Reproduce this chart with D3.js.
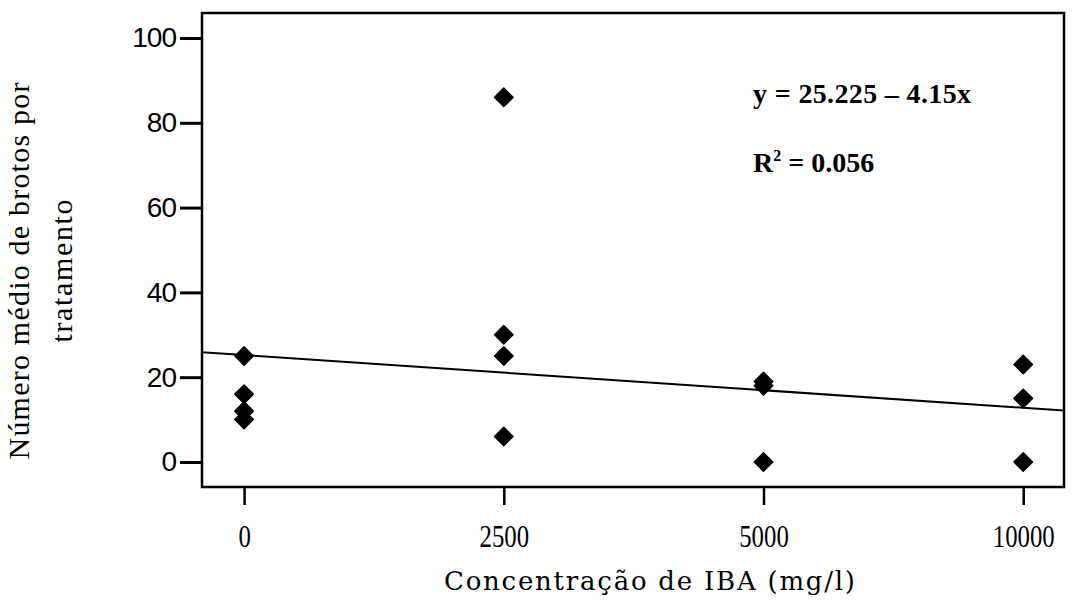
<!DOCTYPE html>
<html>
<head>
<meta charset="utf-8">
<script src="https://cdn.jsdelivr.net/npm/d3@7"></script>
<style>
  body { margin: 0; background: #fff; }
  svg { display: block; }
</style>
</head>
<body>
<svg id="chart" width="1075" height="607"></svg>
<script>
// data
const categories = ["0", "2500", "5000", "10000"];
const values0 = [25, 16, 12, 10];
const values2500 = [86, 30, 25, 6];
const values5000 = [19, 18, 0];
const values10000 = [23, 15, 0];
const yTicks = [0, 20, 40, 60, 80, 100];
const intercept = 25.225;
const slope = -4.15;

const groups = [values0, values2500, values5000, values10000];
const points = [];
groups.forEach((vals, i) => vals.forEach(v => points.push({ i: i, v: v })));

const svg = d3.select("#chart");
const box = { left: 202, right: 1064, top: 13, bottom: 487 };

// categories sit on an evenly spaced index scale
const x = d3.scaleLinear().domain([-0.162, 3.157]).range([box.left, box.right]);
const y = d3.scaleLinear().domain([-5.9, 105.9]).range([box.bottom, box.top]);

// y axis
const yAxis = svg.append("g")
  .attr("transform", `translate(${box.left},0)`)
  .call(d3.axisLeft(y).tickValues(yTicks).tickSize(22).tickPadding(4));
yAxis.select(".domain").remove();
yAxis.selectAll(".tick line").attr("stroke", "#000").attr("stroke-width", 3);
yAxis.selectAll(".tick text")
  .attr("font-family", "Liberation Sans, Arial, sans-serif")
  .attr("font-size", 28)
  .attr("letter-spacing", -1)
  .attr("fill", "#000");

// x axis
const xAxis = svg.append("g")
  .attr("transform", `translate(0,${box.bottom})`)
  .call(d3.axisBottom(x).tickValues([0, 1, 2, 3]).tickFormat(i => categories[i]).tickSize(18).tickPadding(20));
xAxis.select(".domain").remove();
xAxis.selectAll(".tick line").attr("stroke", "#000").attr("stroke-width", 2.5);
xAxis.selectAll(".tick text")
  .attr("font-family", "Liberation Serif, Times New Roman, serif")
  .attr("font-size", 31)
  .attr("transform", "scale(0.8,1)")
  .attr("fill", "#000");

// frame
svg.append("rect")
  .attr("x", box.left).attr("y", box.top)
  .attr("width", box.right - box.left).attr("height", box.bottom - box.top)
  .attr("fill", "none").attr("stroke", "#000").attr("stroke-width", 2.5);

// regression line
const lineX = x.domain();
svg.append("line")
  .attr("x1", x(lineX[0])).attr("y1", y(intercept + slope * lineX[0]))
  .attr("x2", x(lineX[1])).attr("y2", y(intercept + slope * lineX[1]))
  .attr("stroke", "#000").attr("stroke-width", 2);

// diamonds
svg.selectAll(".pt")
  .data(points)
  .enter()
  .append("path")
  .attr("class", "pt")
  .attr("d", d3.symbol().type(d3.symbolSquare).size(170))
  .attr("transform", d => `translate(${x(d.i)},${y(d.v)}) rotate(45)`)
  .attr("fill", "#000")
  .attr("stroke", "#000")
  .attr("stroke-width", 1.5)
  .attr("stroke-linejoin", "round");

// equation
svg.append("text")
  .attr("x", 753).attr("y", 103)
  .attr("font-family", "Liberation Serif, Times New Roman, serif")
  .attr("font-weight", "bold")
  .attr("font-size", 28)
  .attr("textLength", 218)
  .text("y = 25.225 \u2013 4.15x");

const r2 = svg.append("text")
  .attr("x", 753).attr("y", 172)
  .attr("font-family", "Liberation Serif, Times New Roman, serif")
  .attr("font-weight", "bold")
  .attr("font-size", 28);
r2.append("tspan").text("R");
r2.append("tspan").attr("dy", -11).attr("font-size", 16).text("2");
r2.append("tspan").attr("dy", 11).text(" = 0.056");

// axis titles
svg.append("text")
  .attr("x", 444).attr("y", 590)
  .attr("font-family", "DejaVu Serif, serif")
  .attr("font-size", 26)
  .attr("textLength", 411)
  .text("Concentração de IBA  (mg/l)");

const yTitle = svg.append("g").attr("transform", "translate(0,271) rotate(-90)");
yTitle.append("text")
  .attr("x", 0).attr("y", 29)
  .attr("text-anchor", "middle")
  .attr("font-family", "Liberation Serif, Times New Roman, serif")
  .attr("font-size", 30)
  .attr("textLength", 377)
  .text("Número médio de brotos por");
yTitle.append("text")
  .attr("x", 0).attr("y", 72)
  .attr("text-anchor", "middle")
  .attr("font-family", "Liberation Serif, Times New Roman, serif")
  .attr("font-size", 30)
  .attr("textLength", 143)
  .text("tratamento");
</script>
</body>
</html>
